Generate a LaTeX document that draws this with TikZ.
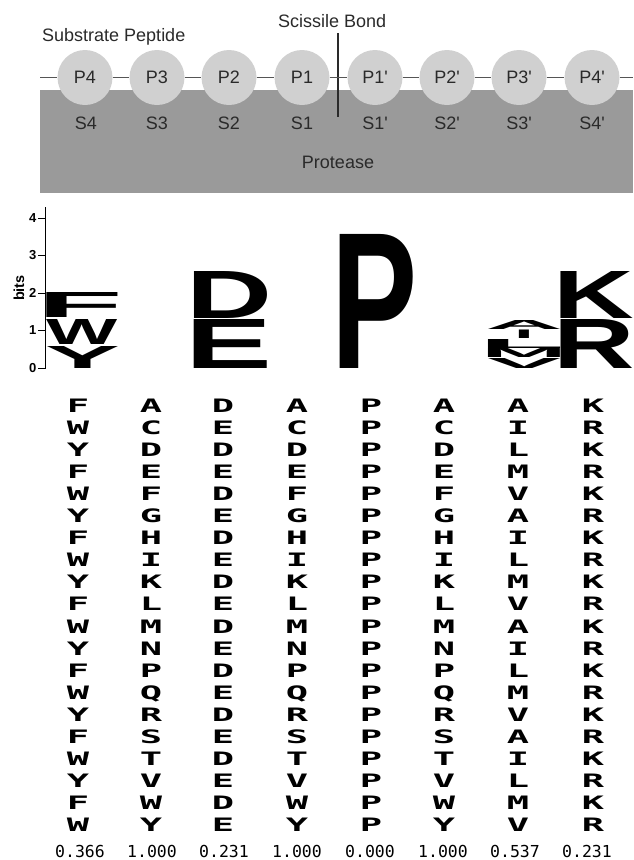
\documentclass[tikz,border=0pt]{standalone}
\usepackage{fontspec}
\usepackage{graphicx}
\setmainfont{Liberation Sans}[Ligatures=TeXOff]
\newfontfamily\logofont{Liberation Sans}[Ligatures=TeXOff]
\newfontfamily\gridfont{DejaVu Sans Mono}
\definecolor{protgray}{HTML}{9A9A9A}
\definecolor{resgray}{HTML}{D0D0D0}
\definecolor{labgray}{HTML}{2A2A2A}
\definecolor{bbgray}{HTML}{555555}
\newcommand\trimglyph[1]{\mbox{\kern-\XeTeXglyphbounds1 \XeTeXcharglyph`#1\relax #1\kern-\XeTeXglyphbounds3 \XeTeXcharglyph`#1\relax}}
\newcommand\logobox[3]{\resizebox{#1pt}{#2pt}{\logofont\bfseries\trimglyph{#3}}}
\newcommand\gridcol[3]{\foreach \L [count=\r] in {#3} {\node[gridl] (g#1-\r) at (#2,{412+22.1*(\r-1)}) {\scalebox{2}[1]{\L}};}}
\tikzset{
  res/.style={circle, fill=resgray, minimum size=55pt, inner sep=0pt, font=\fontsize{18}{20}\selectfont, text=labgray},
  site/.style={inner sep=0pt, anchor=base, font=\fontsize{18}{20}\selectfont, text=labgray},
  bb/.style={draw=bbgray, line width=1.5pt},
  scline/.style={draw=labgray, line width=1.3pt},
  logo/.style={anchor=south west, inner sep=0pt, outer sep=0pt},
  axisline/.style={draw=black, line width=1pt},
  ticklab/.style={anchor=east, inner sep=0pt, font=\bfseries\fontsize{13}{15}\selectfont},
  gridl/.style={anchor=base, inner sep=0pt, font=\gridfont\bfseries\fontsize{18.5}{20}\selectfont},
  numl/.style={anchor=base, inner sep=0pt, font=\gridfont\fontsize{16.5}{18}\selectfont}
}
\begin{document}
\begin{tikzpicture}[x=1pt,y=-1pt]
\useasboundingbox (0,0) rectangle (633,860);
% protease block
\fill[protgray] (40,90) rectangle (633,193);
\node[site] (protease) at (338,168) {Protease};
% titles
\node[site, anchor=base west] (subst) at (42,41.7) {Substrate Peptide};
\node[site, anchor=base west] (sciss) at (278,27) {Scissile Bond};
% scissile bond line
\coordinate (scT) at (338,33);
\coordinate (scB) at (338,117);
\draw[scline] (scT) -- (scB);
% residues
\foreach \n/\x/\lab in {p4/85/P4, p3/157/P3, p2/229/P2, p1/302/P1, q1/375/P1', q2/447/P2', q3/519/P3', q4/592/P4'}
  \node[res] (\n) at (\x,77.5) {\lab};
\coordinate (bbL) at (40,77.5);
\coordinate (bbR) at (633,77.5);
\draw[bb] (bbL) -- (p4) -- (p3) -- (p2) -- (p1) -- (q1) -- (q2) -- (q3) -- (q4) -- (bbR);
% subsites
\foreach \n/\x/\lab in {s4/86/S4, s3/157/S3, s2/229/S2, s1/302/S1, t1/375/S1', t2/447/S2', t3/519/S3', t4/592/S4'}
  \node[site] (\n) at (\x,129.3) {\lab};
% logo axis
\coordinate (axT) at (45,207);
\coordinate (axB) at (45,368.5);
\draw[axisline] (axT) -- (axB);
\foreach \k in {0,...,4} {
  \coordinate (tk\k a) at (45.5,{368-37.5*\k});
  \coordinate (tk\k b) at (38,{368-37.5*\k});
  \draw[axisline] (tk\k a) -- (tk\k b);
  \node[ticklab] (tl\k) at (36.5,{368-37.5*\k}) {\k};
}
\node[rotate=90, inner sep=0pt, font=\bfseries\fontsize{14.5}{16}\selectfont] (bits) at (19,288) {bits};
% logo letters
\node[logo] (lF) at (47,317) {\logobox{71}{25}{F}};
\node[logo] (lW) at (47,344) {\logobox{71}{25}{W}};
\node[logo] (lY) at (47,368) {\logobox{71}{22}{Y}};
\node[logo] (lD) at (194,318) {\logobox{73}{47}{D}};
\node[logo] (lE) at (194,368) {\logobox{73}{49}{E}};
\node[logo] (lP) at (340,368) {\logobox{73}{134}{P}};
\node[logo] (lA) at (488,329.5) {\logobox{72}{9}{A}};
\node[anchor=south, inner sep=0pt] (lI) at (524,338.5) {\logobox{10}{8.5}{I}};
\node[logo] (lL) at (488,348) {\logobox{72}{9}{L}};
\node[logo] (lM) at (488,357.5) {\logobox{72}{9}{M}};
\node[logo] (lV) at (488,368) {\logobox{72}{10}{V}};
\node[logo] (lK) at (561,318) {\logobox{72}{47}{K}};
\node[logo] (lR) at (561,368) {\logobox{71.5}{49}{R}};
% letter grid
\gridcol{1}{78}{F,W,Y,F,W,Y,F,W,Y,F,W,Y,F,W,Y,F,W,Y,F,W}
\gridcol{2}{151}{A,C,D,E,F,G,H,I,K,L,M,N,P,Q,R,S,T,V,W,Y}
\gridcol{3}{223}{D,E,D,E,D,E,D,E,D,E,D,E,D,E,D,E,D,E,D,E}
\gridcol{4}{297}{A,C,D,E,F,G,H,I,K,L,M,N,P,Q,R,S,T,V,W,Y}
\gridcol{5}{371}{P,P,P,P,P,P,P,P,P,P,P,P,P,P,P,P,P,P,P,P}
\gridcol{6}{444}{A,C,D,E,F,G,H,I,K,L,M,N,P,Q,R,S,T,V,W,Y}
\gridcol{7}{518}{A,I,L,M,V,A,I,L,M,V,A,I,L,M,V,A,I,L,M,V}
\gridcol{8}{593}{K,R,K,R,K,R,K,R,K,R,K,R,K,R,K,R,K,R,K,R}
% scores
\foreach \n/\x/\v in {1/80/0.366, 2/152/1.000, 3/224/0.231, 4/297/1.000, 5/370/0.000, 6/443/1.000, 7/515/0.537, 8/587/0.231}
  \node[numl] (n\n) at (\x,857) {\v};
\end{tikzpicture}
\end{document}
